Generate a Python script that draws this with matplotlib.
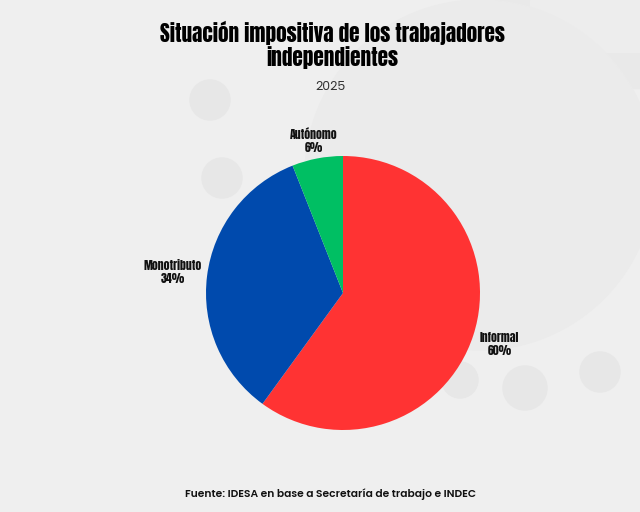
import numpy as np
import matplotlib.pyplot as plt
from matplotlib.patches import Circle, Rectangle

labels = ['Informal', 'Monotributo', 'Autónomo']
values = [60, 34, 6]
colors = ['#ff3333', '#004aad', '#00bf63']

TITLE = 'Situación impositiva de los trabajadores\nindependientes'
SUBTITLE = '2025'
SOURCE = 'Fuente: IDESA en base a Secretaría de trabajo e INDEC'

W, H = 640, 512
fig = plt.figure(figsize=(W / 100, H / 100), dpi=100)
fig.patch.set_facecolor('#efefef')

# faint background decoration
bg = fig.add_axes([0, 0, 1, 1])
bg.set_xlim(0, W)
bg.set_ylim(H, 0)
bg.axis('off')
bg.add_patch(Rectangle((495, 0), 145, 88, color='#e9e9e9', zorder=0))
bg.add_patch(Rectangle((530, 0), 110, 52, color='#ededed', zorder=0))
bg.add_patch(Circle((480, 175), 175, color='#ebebeb', zorder=0))
for (x0, y0, rr) in [(210, 100, 20), (222, 178, 20), (600, 372, 20), (525, 388, 22), (460, 380, 18)]:
    bg.add_patch(Circle((x0, y0), rr, color='#e7e7e7', zorder=0))

cx, cy, r = 343, 293, 137
ax = fig.add_axes([(cx - r) / W, (H - cy - r) / H, 2 * r / W, 2 * r / H])
wedges, _ = ax.pie(values, colors=colors, startangle=90, counterclock=False,
                   wedgeprops=dict(linewidth=0))
ax.set_xlim(-1, 1)
ax.set_ylim(-1, 1)
ax.axis('off')

dists = [1.2, 1.25, 1.13]
for w, lab, v, d in zip(wedges, labels, values, dists):
    ang = np.deg2rad((w.theta1 + w.theta2) / 2)
    ax.text(d * np.cos(ang), d * np.sin(ang), f'{lab}\n{v}%', ha='center', va='center',
            fontsize=8.5, family='Anton', linespacing=1.2, color='#111111', clip_on=False)

fig.text(0.519, 0.912, TITLE, ha='center', va='center', fontsize=15.3,
         family='Anton', linespacing=1.05, color='#000000')
fig.text(0.517, 0.83, SUBTITLE, ha='center', va='center', fontsize=9,
         family='Poppins', color='#333333')
fig.text(0.516, 0.035, SOURCE, ha='center', va='center', fontsize=7.7, fontweight='semibold',
         family='Poppins', color='#111111')

plt.savefig('out.png', dpi=100, facecolor=fig.get_facecolor())
